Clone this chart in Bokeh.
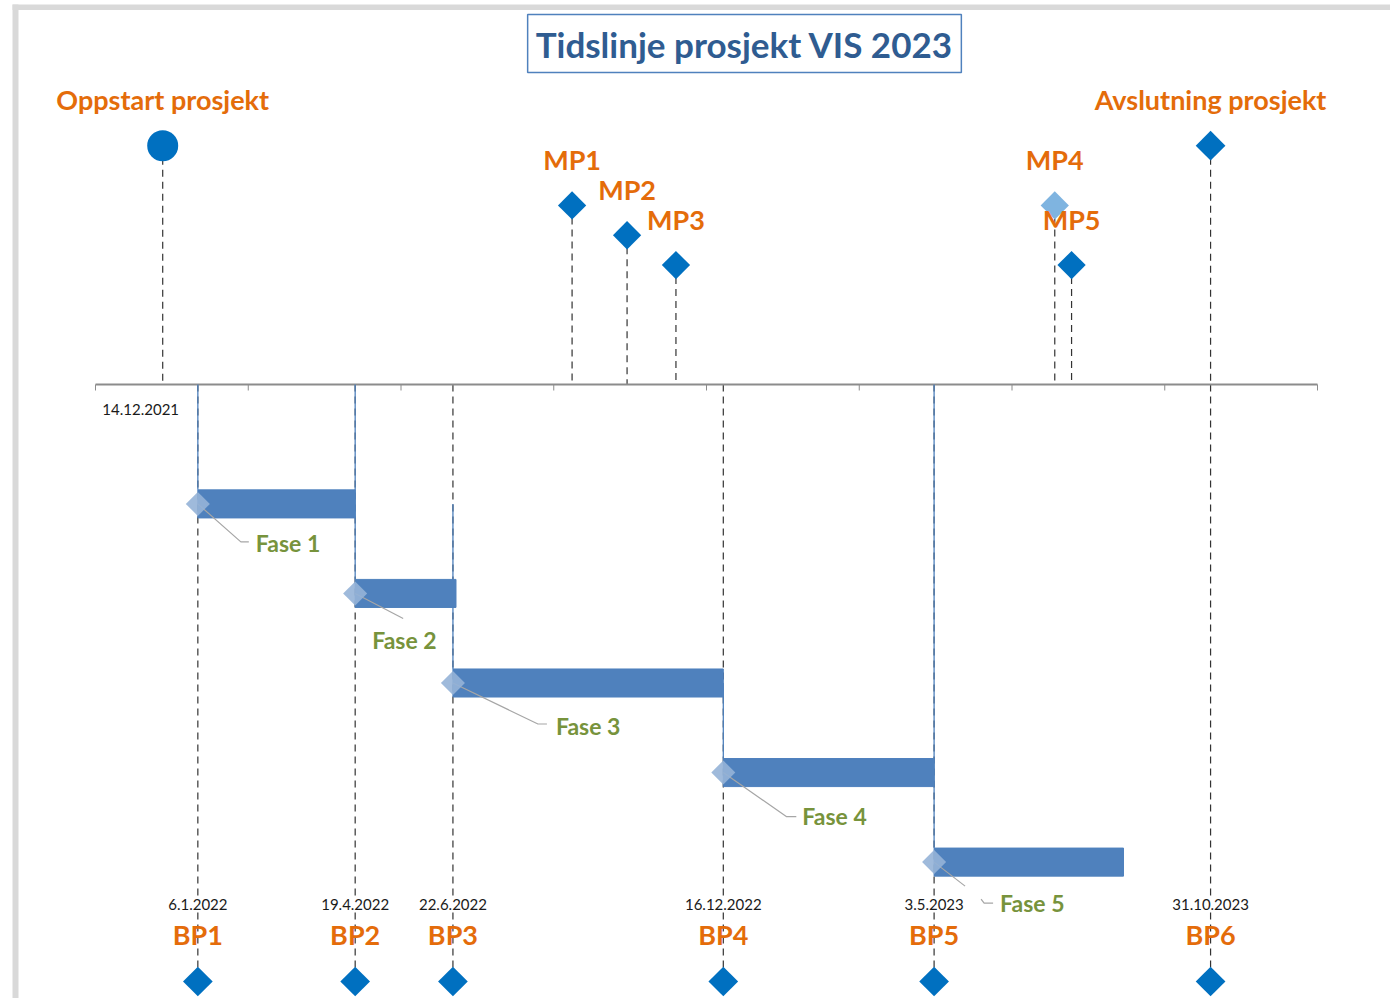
import numpy as np
import pandas as pd
from bokeh.plotting import figure
from bokeh.models import ColumnDataSource, Range1d, Label, BoxAnnotation
from bokeh.core.properties import value
from bokeh.embed import file_html
from bokeh.resources import INLINE

# ---------------- data ----------------
title_text = "Tidslinje prosjekt VIS 2023"

top_names = ["Oppstart prosjekt", "MP1", "MP2", "MP3", "MP4", "MP5", "Avslutning prosjekt"]
top_dates = ["2021-12-14", "2022-09-08", "2022-10-14", "2022-11-15", "2023-07-21", "2023-08-01", "2023-10-31"]
top_levels = [8, 6, 5, 4, 6, 4, 8]

bp_names = ["BP1", "BP2", "BP3", "BP4", "BP5", "BP6"]
bp_dates = ["2022-01-06", "2022-04-19", "2022-06-22", "2022-12-16", "2023-05-03", "2023-10-31"]
bp_date_labels = ["6.1.2022", "19.4.2022", "22.6.2022", "16.12.2022", "3.5.2023", "31.10.2023"]
bp_level = -20

phase_names = ["Fase 1", "Fase 2", "Fase 3", "Fase 4", "Fase 5"]
phase_start = ["2022-01-06", "2022-04-19", "2022-06-22", "2022-12-16", "2023-05-03"]
phase_end = ["2022-04-19", "2022-06-24", "2022-12-16", "2023-05-03", "2023-09-04"]
phase_levels = [-4, -7, -10, -13, -16]
phase_link_top = [0, 0, -4, -10, 0]

start_label = "14.12.2021"

# axis settings (Excel date serials)
AX_MIN, AX_MAX, AX_STEP = 44500, 45300, 100

# ---------------- styling ----------------
ORANGE = "#E46C0A"
GREEN = "#77933C"
DARK_BLUE = "#0070C0"
BAR_BLUE = "#4F81BD"
LIGHT_DIAMOND = "#95B3D7"
TITLE_BLUE = "#2F5C91"
FONT = "Lato"

W, H = 1390, 998
PX_DAY = 1.5275
PX_UNIT = 29.85
AXIS_PX_X = 95
AXIS_PX_Y = 384

top_markers = ["circle", "square", "square", "square", "square", "square", "square"]
top_sizes = [31, 20, 20, 20, 20, 20, 21]
top_colors = [DARK_BLUE, DARK_BLUE, DARK_BLUE, DARK_BLUE, "#7FB4E0", DARK_BLUE, DARK_BLUE]
top_angles = [0, np.pi / 4, np.pi / 4, np.pi / 4, np.pi / 4, np.pi / 4, np.pi / 4]

# phase label offsets (px) relative to bar start marker
phase_lbl_dx = [58, 17, 103, 79, 66]
phase_lbl_dy = [39, 47, 43, 43, 41]
# leader polylines (px offsets)
phase_leaders = [
    [(0, 0), (43, 38), (51, 38)],
    [(0, 0), (48, 25)],
    [(0, 0), (85, 41), (94, 41)],
    [(0, 0), (63, 44), (73, 44)],
    [(0, 0), (31, 24), (None, None), (47, 37), (50, 41), (59, 41)],
]


def serial(d):
    return float((pd.Timestamp(d) - pd.Timestamp("1899-12-30")).days)


top_x = [serial(d) for d in top_dates]
bp_x = [serial(d) for d in bp_dates]
ph_s = [serial(d) for d in phase_start]
ph_e = [serial(d) for d in phase_end]

x_start = AX_MIN - AXIS_PX_X / PX_DAY
x_end = x_start + W / PX_DAY
y_end = AXIS_PX_Y / PX_UNIT
y_start = y_end - H / PX_UNIT

p = figure(width=W, height=H, x_range=Range1d(x_start, x_end), y_range=Range1d(y_start, y_end),
           output_backend="svg", toolbar_location=None, min_border=0,
           x_axis_type=None, y_axis_type=None)
p.grid.visible = False
p.outline_line_color = None
p.background_fill_color = "white"
p.border_fill_color = "white"

# gray frame bands (screenshot border)
p.add_layout(BoxAnnotation(left=x_start + 12 / PX_DAY, right=x_start + 18 / PX_DAY,
                           bottom=y_start, top=y_end - 4 / PX_UNIT,
                           fill_color="#D9D9D9", fill_alpha=1, line_color=None, level="underlay"))
p.add_layout(BoxAnnotation(bottom=y_end - 9.5 / PX_UNIT, top=y_end - 4 / PX_UNIT, left=x_start + 12 / PX_DAY,
                           right=x_end,
                           fill_color="#D9D9D9", fill_alpha=1, line_color=None, level="underlay"))

DASH = "7 5"
DASH_COLOR = "#333333"
# dashed drop lines
p.segment(x0=top_x, y0=top_levels, x1=top_x, y1=[0] * len(top_x), line_dash=DASH, line_color=DASH_COLOR, line_width=1.2)
p.segment(x0=bp_x, y0=[0] * len(bp_x), x1=bp_x, y1=[bp_level] * len(bp_x), line_dash=DASH, line_color=DASH_COLOR, line_width=1.2)

# axis line and ticks
ticks = list(np.arange(AX_MIN, AX_MAX + 1, AX_STEP))
p.segment(x0=[AX_MIN], y0=[0], x1=[AX_MAX], y1=[0], line_color="#8C8C8C", line_width=2)
p.segment(x0=ticks, y0=[0] * len(ticks), x1=ticks, y1=[-6 / PX_UNIT] * len(ticks), line_color="#8C8C8C", line_width=1)

# thin link lines at phase starts
bar_h = 0.94
p.segment(x0=ph_s, y0=phase_link_top, x1=ph_s, y1=[l + bar_h / 2 for l in phase_levels],
          line_color=BAR_BLUE, line_width=1.3)

# bars
p.hbar(y=phase_levels, left=ph_s, right=ph_e, height=bar_h, fill_color=BAR_BLUE, line_color=BAR_BLUE)

# leader lines
lx, ly = [], []
for s, lv, pts in zip(ph_s, phase_levels, phase_leaders):
    xs = [np.nan if dx is None else s + dx / PX_DAY for dx, dy in pts]
    ys = [np.nan if dy is None else lv - dy / PX_UNIT for dx, dy in pts]
    lx.append(xs)
    ly.append(ys)
p.multi_line(xs=lx, ys=ly, line_color="#A6A6A6", line_width=1.2)

# light diamonds at bar starts
p.scatter(x=ph_s, y=phase_levels, marker="square", angle=np.pi / 4, size=17,
          fill_color=LIGHT_DIAMOND, fill_alpha=0.9, line_color=None)

# top markers
top_src = ColumnDataSource(dict(x=top_x, y=top_levels, name=top_names, marker=top_markers,
                                size=top_sizes, color=top_colors, angle=top_angles))
p.scatter(x="x", y="y", marker="marker", size="size", angle="angle", fill_color="color",
          line_color=None, source=top_src)
p.text(x="x", y="y", text="name", source=top_src, text_align="center", text_baseline="middle",
       y_offset=-46, text_font=value(FONT), text_font_style="bold", text_font_size="27px",
       text_color=ORANGE)

# BP markers and labels
bp_src = ColumnDataSource(dict(x=bp_x, y=[bp_level] * len(bp_x), name=bp_names, dl=bp_date_labels))
p.scatter(x="x", y="y", marker="square", angle=np.pi / 4, size=21, fill_color=DARK_BLUE,
          line_color=None, source=bp_src)
p.text(x="x", y="y", text="name", source=bp_src, text_align="center", text_baseline="middle",
       y_offset=-47, text_font=value(FONT), text_font_style="bold", text_font_size="27px",
       text_color=ORANGE)
p.text(x="x", y="y", text="dl", source=bp_src, text_align="center", text_baseline="middle",
       y_offset=-77, text_font=value(FONT), text_font_size="15px", text_color="#1a1a1a",
       background_fill_color="white")

# start date label
p.text(x=[top_x[0]], y=[0], text=[start_label], text_align="center", text_baseline="middle",
       x_offset=-22, y_offset=25, text_font=value(FONT), text_font_size="15px", text_color="#1a1a1a")

# phase labels
ph_src = ColumnDataSource(dict(x=ph_s, y=phase_levels, name=phase_names, dx=phase_lbl_dx, dy=phase_lbl_dy))
p.text(x="x", y="y", text="name", source=ph_src, x_offset="dx", y_offset="dy", text_align="left",
       text_baseline="middle", text_font=value(FONT), text_font_style="bold", text_font_size="23px",
       text_color=GREEN)

# title box
p.add_layout(Label(x=x_start + 744 / PX_DAY, y=(AXIS_PX_Y - 43) / PX_UNIT, text=title_text,
                   text_align="center", text_baseline="middle", text_font=FONT, text_font_style="bold",
                   text_font_size="35px", text_color=TITLE_BLUE, border_line_color="#4F81BD",
                   border_line_width=1.5, background_fill_color="white", padding=8))

open("out.html", "w").write(file_html(p, INLINE))
